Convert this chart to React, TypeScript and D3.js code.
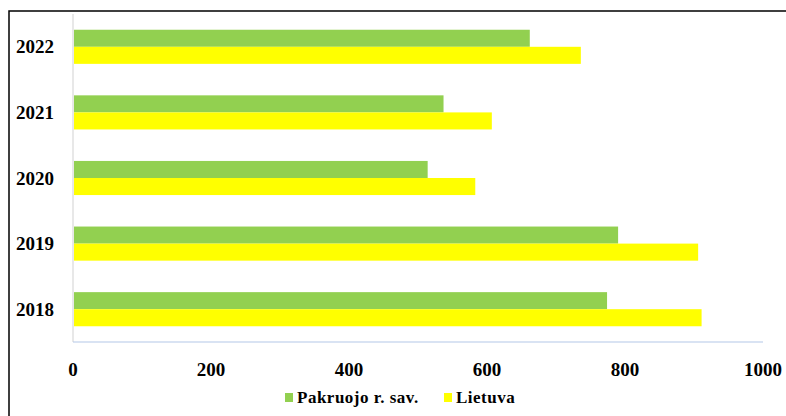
import React from "react";
import * as d3 from "d3";

const years = ["2022", "2021", "2020", "2019", "2018"];
const pakruojo = [662, 537, 514, 790, 774];
const lietuva = [736, 607, 583, 906, 911];
const xTicks = [0, 200, 400, 600, 800, 1000];
const seriesNames = ["Pakruojo r. sav.", "Lietuva"];
const seriesColors = ["#92D050", "#FFFF00"];

export default function App() {
  const W = 786, H = 416;
  const left = 73, right = 763, top = 14, bottom = 342;
  const x = d3.scaleLinear().domain([0, 1000]).range([left, right]);
  const y = d3.scaleBand().domain(years).range([top, bottom]).paddingInner(0.48).paddingOuter(0.24);
  const sub = d3.scaleBand().domain(["0", "1"]).range([0, y.bandwidth()]);
  const font = "'Liberation Serif', 'Times New Roman', serif";
  const series = [pakruojo, lietuva];
  return (
    <div style={{ position: "absolute", left: 0, top: 0 }}>
      <svg width={W} height={H} style={{ display: "block", background: "#fff" }}>
        <rect x={9} y={11} width={800} height={420} fill="none" stroke="#000" strokeWidth={1.5} />
        {/* y axis line */}
        <line x1={left} x2={left} y1={top} y2={bottom} stroke="#d9d9d9" strokeWidth={1.2} />
        {/* bars */}
        {years.map((yr, i) => (
          <g key={yr}>
            {series.map((s, j) => (
              <rect
                key={j}
                x={x(0) + 1}
                y={(y(yr) as number) + (sub(String(j)) as number)}
                width={x(s[i]) - x(0) - 1}
                height={sub.bandwidth()}
                fill={seriesColors[j]}
              />
            ))}
            <text
              x={35}
              y={(y(yr) as number) + y.bandwidth() / 2}
              dy="0.35em"
              textAnchor="middle"
              fontFamily={font}
              fontWeight="bold"
              fontSize={19}
              fill="#000"
            >
              {yr}
            </text>
          </g>
        ))}
        {/* x axis line */}
        <line x1={left} x2={right} y1={bottom} y2={bottom} stroke="#b4c7e7" strokeWidth={1.2} />
        {xTicks.map((t) => (
          <text
            key={t}
            x={x(t)}
            y={376}
            textAnchor="middle"
            fontFamily={font}
            fontWeight="bold"
            fontSize={19}
            fill="#000"
          >
            {t}
          </text>
        ))}
        {/* legend */}
        {seriesNames.map((n, j) => {
          const lx = j === 0 ? 285 : 444;
          return (
            <g key={n}>
              <rect x={lx} y={393} width={8} height={9} fill={seriesColors[j]} />
              <text x={lx + 12} y={403} fontFamily={font} fontWeight="bold" fontSize={17} letterSpacing={0.5} fill="#000">
                {n}
              </text>
            </g>
          );
        })}
      </svg>
    </div>
  );
}
